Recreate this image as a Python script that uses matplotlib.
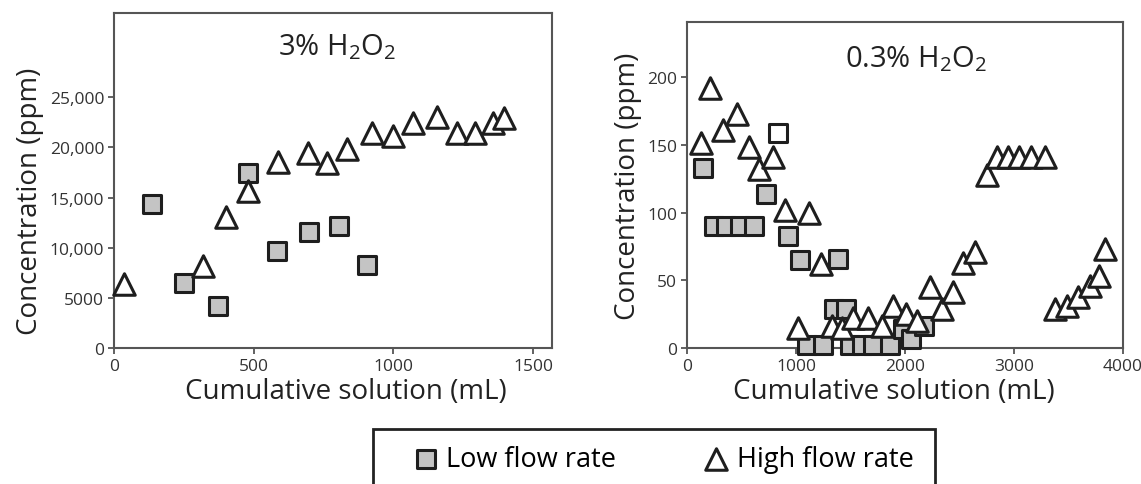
import matplotlib.pyplot as plt
from matplotlib.patches import Rectangle

plt.rcParams['font.family'] = ['Open Sans', 'DejaVu Sans']
plt.rcParams['mathtext.default'] = 'regular'

# 3% H2O2 panel
low3_x = [135, 251, 373, 481, 582, 699, 804, 906]
low3_y = [14400, 6500, 4200, 17400, 9700, 11600, 12200, 8250]
high3_x = [37, 320, 401, 478, 586, 693, 761, 834, 924, 1000, 1069, 1157, 1229, 1294, 1356, 1395]
high3_y = [6400, 8200, 13050, 15700, 18500, 19400, 18450, 19850, 21450, 21100, 22450, 23050, 21450, 21450, 22450, 22950]

# 0.3% H2O2 panel
low03_x = [143, 244, 360, 482, 617, 727, 925, 1038, 1389, 1350, 1456,
           1099, 1246, 1496, 1603, 1710, 1863, 1979, 2052, 2177]
low03_y = [133, 90, 90, 90, 90, 114, 83, 65, 66, 28.5, 28.5,
           2.5, 2.5, 2.5, 2.5, 2.5, 2.5, 14, 7, 16]
open03_x = [834]   # the one unfilled square
open03_y = [159]
high03_x = [128, 208, 327, 458, 565, 660, 788, 895, 1121, 1228, 1014,
            1328, 1420, 1527, 1664, 1786, 1893, 2009, 2107, 2229, 2336, 2443, 2534, 2641,
            2748, 2840, 2947, 3047, 3160, 3289,
            3380, 3487, 3588, 3701, 3780, 3832]
high03_y = [151, 192, 161, 173, 148, 132, 141, 102, 100, 62, 15,
            16, 15, 22, 22, 16, 31, 25, 20, 45, 29, 41, 63, 71,
            128, 141, 141, 141, 141, 141,
            29, 31, 38, 46, 53, 73]

yticks3 = [0, 5000, 10000, 15000, 20000, 25000]
yticklabels3 = ['0', '5000', '10,000', '15,000', '20,000', '25,000']
xticks3 = [0, 500, 1000, 1500]
yticks03 = [0, 50, 100, 150, 200]
xticks03 = [0, 1000, 2000, 3000, 4000]

xlabel = 'Cumulative solution (mL)'
ylabel = 'Concentration (ppm)'

grey = '#c4c4c4'
edge = '#1e1e1e'
axcol = '#555555'
sq = dict(marker='s', s=150, facecolor=grey, edgecolor=edge, linewidths=2.2, zorder=3, clip_on=False)
tri = dict(marker='^', s=240, facecolor='white', edgecolor=edge, linewidths=2.2, zorder=4, clip_on=False)

fig = plt.figure(figsize=(11.41, 4.85), dpi=100)
ax1 = fig.add_axes([0.0999, 0.2804, 0.3839, 0.6907])
ax2 = fig.add_axes([0.6021, 0.2804, 0.3821, 0.6722])

ax1.scatter(low3_x, low3_y, label='Low flow rate', **sq)
ax1.scatter(high3_x, high3_y, label='High flow rate', **tri)
ax1.set_xlim(0, 1568); ax1.set_ylim(0, 33400)
ax1.set_yticks(yticks3); ax1.set_yticklabels(yticklabels3)
ax1.set_xticks(xticks3)
ax1.text(0.51, 0.90, '3% H$_2$O$_2$', transform=ax1.transAxes, ha='center', va='center', fontsize=21, color='#222222')

ax2.scatter(low03_x, low03_y, **sq)
ax2.scatter(open03_x, open03_y, marker='s', s=150, facecolor='white', edgecolor=edge, linewidths=2.2, zorder=3)
ax2.scatter(high03_x, high03_y, **tri)
ax2.set_xlim(0, 4000); ax2.set_ylim(0, 240.6)
ax2.set_yticks(yticks03); ax2.set_xticks(xticks03)
ax2.text(0.525, 0.89, '0.3% H$_2$O$_2$', transform=ax2.transAxes, ha='center', va='center', fontsize=21, color='#222222')

for ax in (ax1, ax2):
    for sp in ax.spines.values():
        sp.set_color(axcol); sp.set_linewidth(1.5)
    ax.tick_params(direction='out', length=4, width=1.3, color=axcol, labelsize=12.5, labelcolor='#333333', pad=3)
    ax.set_xlabel(xlabel, fontsize=20, color='#222222', labelpad=2)
    ax.set_ylabel(ylabel, fontsize=20, color='#222222', labelpad=4)
ax1.xaxis.label.set_x(0.53)
ax2.xaxis.label.set_x(0.475)
ax1.yaxis.label.set_y(0.44)

# legend box (runs off the bottom of the figure)
fig.patches.append(Rectangle((373 / 1141, -0.05), (935 - 373) / 1141, (0.05 + 1 - 430 / 485),
                             transform=fig.transFigure, facecolor='none', edgecolor='#222222', linewidth=2))
h, l = ax1.get_legend_handles_labels()
fig.legend(h, l, loc='center left', bbox_to_anchor=(388 / 1141, 1 - 460 / 485), ncol=2, frameon=False,
           fontsize=19.5, handlelength=1.0, columnspacing=3.2, handletextpad=0.25, markerscale=1.0)

fig.savefig('out.png', dpi=100)
